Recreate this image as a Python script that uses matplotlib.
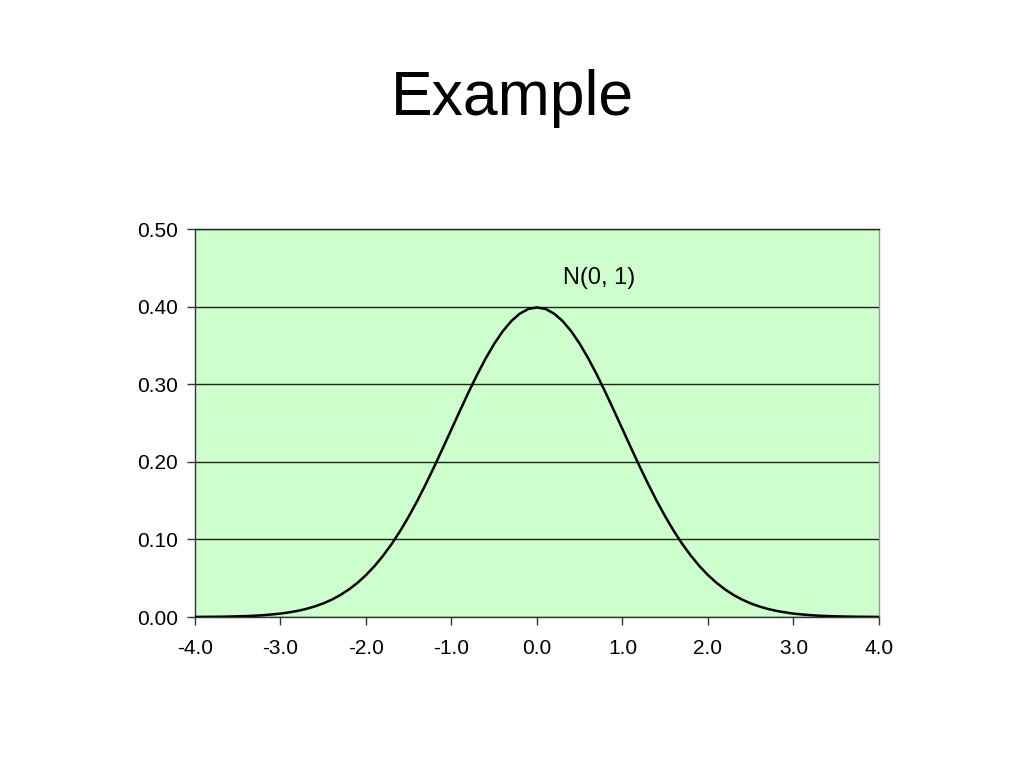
import matplotlib
matplotlib.use("Agg")
import matplotlib.pyplot as plt

plt.rcParams['font.family'] = ['Liberation Sans', 'DejaVu Sans']

# values (step 0.1)
x_vals = [-4.0, -3.9, -3.8, -3.7, -3.6, -3.5, -3.4, -3.3, -3.2, -3.1,
          -3.0, -2.9, -2.8, -2.7, -2.6, -2.5, -2.4, -2.3, -2.2, -2.1,
          -2.0, -1.9, -1.8, -1.7, -1.6, -1.5, -1.4, -1.3, -1.2, -1.1,
          -1.0, -0.9, -0.8, -0.7, -0.6, -0.5, -0.4, -0.3, -0.2, -0.1,
          0.0,
          0.1, 0.2, 0.3, 0.4, 0.5, 0.6, 0.7, 0.8, 0.9, 1.0,
          1.1, 1.2, 1.3, 1.4, 1.5, 1.6, 1.7, 1.8, 1.9, 2.0,
          2.1, 2.2, 2.3, 2.4, 2.5, 2.6, 2.7, 2.8, 2.9, 3.0,
          3.1, 3.2, 3.3, 3.4, 3.5, 3.6, 3.7, 3.8, 3.9, 4.0]
y_vals = [0.0001, 0.0002, 0.0003, 0.0004, 0.0006, 0.0009, 0.0012, 0.0017, 0.0024, 0.0033,
          0.0044, 0.0060, 0.0079, 0.0104, 0.0136, 0.0175, 0.0224, 0.0283, 0.0355, 0.0440,
          0.0540, 0.0656, 0.0790, 0.0940, 0.1109, 0.1295, 0.1497, 0.1714, 0.1942, 0.2179,
          0.2420, 0.2661, 0.2897, 0.3123, 0.3332, 0.3521, 0.3683, 0.3814, 0.3910, 0.3970,
          0.3989,
          0.3970, 0.3910, 0.3814, 0.3683, 0.3521, 0.3332, 0.3123, 0.2897, 0.2661, 0.2420,
          0.2179, 0.1942, 0.1714, 0.1497, 0.1295, 0.1109, 0.0940, 0.0790, 0.0656, 0.0540,
          0.0440, 0.0355, 0.0283, 0.0224, 0.0175, 0.0136, 0.0104, 0.0079, 0.0060, 0.0044,
          0.0033, 0.0024, 0.0017, 0.0012, 0.0009, 0.0006, 0.0004, 0.0003, 0.0002, 0.0001]
x_ticks = [-4.0, -3.0, -2.0, -1.0, 0.0, 1.0, 2.0, 3.0, 4.0]
y_ticks = [0.0, 0.1, 0.2, 0.3, 0.4, 0.5]
title = "Example"
label = "N(0, 1)"

fig = plt.figure(figsize=(10.24, 7.68), dpi=100)
ax = fig.add_axes([0.1904, 0.1966, 0.668, 0.5052])
ax.set_facecolor('#ccffcc')

ax.plot(x_vals, y_vals, color='black', lw=1.8, zorder=3)

ax.set_xlim(-4, 4)
ax.set_ylim(0, 0.5)
ax.set_xticks(x_ticks)
ax.set_xticklabels([f"{v:.1f}" for v in x_ticks])
ax.set_yticks(y_ticks)
ax.set_yticklabels([f"{v:.2f}" for v in y_ticks])
ax.yaxis.grid(True, color='#222222', lw=1.0)
ax.set_axisbelow(True)
ax.tick_params(direction='out', length=6, width=1, color='#333333',
               labelsize=15)
ax.tick_params(axis='y', pad=6)
ax.tick_params(axis='x', pad=10)

for s in ['left', 'bottom']:
    ax.spines[s].set_color('#333333')
ax.spines['top'].set_color('#222222')
ax.spines['right'].set_color('#999999')
for s in ax.spines.values():
    s.set_linewidth(1.0)

ax.text(0.73, 0.437, label, fontsize=17, ha='center', va='center')
fig.text(0.5, 0.872, title, fontsize=45, ha='center', va='center')

fig.savefig("out.png", dpi=100)
